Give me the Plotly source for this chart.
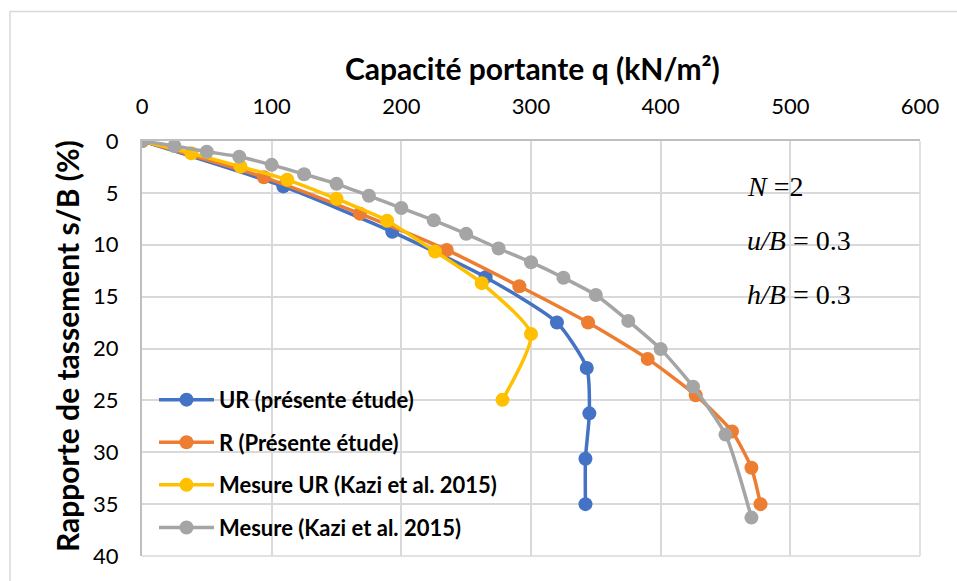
import plotly.graph_objects as go

# Bearing capacity q (kN/m²) versus settlement ratio s/B (%)
ur_q = [0, 109, 193, 265, 320, 343, 345, 342, 342]
ur_s = [0, 4.375, 8.75, 13.125, 17.5, 21.875, 26.25, 30.625, 35.0]

r_q = [0, 94, 168, 235, 291, 344, 390, 427, 455, 470, 477]
r_s = [0, 3.5, 7.0, 10.5, 14.0, 17.5, 21.0, 24.5, 28.0, 31.5, 35.0]

mes_ur_q = [0, 38, 76, 112, 150, 189, 226, 262, 300, 278]
mes_ur_s = [0, 1.18, 2.47, 3.74, 5.57, 7.68, 10.65, 13.7, 18.6, 24.95]

mes_q = [0, 25, 50, 75, 100, 125, 150, 175, 200, 225, 250, 275, 300, 325,
         350, 375, 400, 425, 450, 470]
mes_s = [0, 0.48, 1.03, 1.51, 2.30, 3.20, 4.13, 5.28, 6.46, 7.65, 8.95,
         10.36, 11.68, 13.18, 14.85, 17.34, 20.06, 23.68, 28.3, 36.3]

series = [
    ("UR (présente étude)", ur_q, ur_s, "#4472C4"),
    ("R (Présente étude)", r_q, r_s, "#ED7D31"),
    ("Mesure UR (Kazi et al. 2015)", mes_ur_q, mes_ur_s, "#FFC000"),
    ("Mesure (Kazi et al. 2015)", mes_q, mes_s, "#A5A5A5"),
]

x_ticks = [0, 100, 200, 300, 400, 500, 600]
y_ticks = [0, 5, 10, 15, 20, 25, 30, 35, 40]

params = ["<i>N</i> =2", "<i>u/B</i> = 0.3", "<i>h/B</i> = 0.3"]
param_y = [4.4, 9.6, 14.8]

fig = go.Figure()
for i, (name, q, s, color) in enumerate(series):
    fig.add_trace(go.Scatter(
        x=q, y=s, name=f"<b>{name}</b>", mode="lines+markers",
        line=dict(color=color, width=3.5, shape="spline", smoothing=0.6),
        marker=dict(color=color, size=14),
        legendgroup=f"g{i}",
    ))

W, H = 957, 581
L, R, T, B = 142, 37, 141, 23
pw, ph = W - L - R, H - T - B

def px_x(p):
    return (p - L) / pw

def px_y(p):
    return 1 - (p - T) / ph

grid = "#d9d9d9"
fig.update_layout(
    width=W, height=H,
    margin=dict(l=L, r=R, t=T, b=B, pad=0),
    paper_bgcolor="white", plot_bgcolor="white",
    font=dict(family="Lato", color="#000000"),
    showlegend=True,
    legend=dict(
        x=px_x(154), y=px_y(380), xanchor="left", yanchor="top",
        bgcolor="rgba(0,0,0,0)", font=dict(family="Lato", size=22, color="#000"),
        tracegroupgap=11, itemwidth=55,
    ),
    xaxis=dict(
        side="top", range=[0, 600], tickvals=x_ticks,
        showgrid=True, gridcolor=grid, gridwidth=1.5,
        showline=True, linecolor="#bfbfbf", linewidth=2, mirror=False,
        zeroline=False, ticks="", ticklabelstandoff=16,
        tickfont=dict(family="Lato", size=22, color="#000"),
    ),
    yaxis=dict(
        autorange=False, range=[40, 0], tickvals=y_ticks,
        showgrid=True, gridcolor=grid, gridwidth=1.5,
        showline=True, linecolor="#bfbfbf", linewidth=2,
        zeroline=False, ticks="", ticklabelstandoff=17,
        tickfont=dict(family="Lato", size=22, color="#000"),
    ),
    shapes=[
        # right and bottom plot-area borders
        dict(type="line", xref="paper", yref="paper", x0=1, x1=1, y0=0, y1=1,
             line=dict(color=grid, width=1.5)),
        dict(type="line", xref="paper", yref="paper", x0=0, x1=1, y0=0, y1=0,
             line=dict(color=grid, width=1.5)),
        # white panel behind the parameter text
        dict(type="rect", xref="paper", yref="paper",
             x0=px_x(727), x1=px_x(899), y0=px_y(327), y1=px_y(153),
             fillcolor="white", line=dict(width=0), layer="between"),
        # outer chart frame
        dict(type="rect", xref="paper", yref="paper",
             x0=px_x(10), x1=px_x(990), y0=px_y(620), y1=px_y(11),
             fillcolor="rgba(0,0,0,0)", line=dict(color=grid, width=1.5),
             layer="below"),
    ],
)

annotations = [
    dict(text="<b>Capacité portante q (kN/m²)</b>", xref="paper", yref="paper",
         x=px_x(532), y=px_y(68), xanchor="center", yanchor="middle",
         showarrow=False, font=dict(family="Lato", size=30, color="#000")),
    dict(text="<b>Rapporte de tassement s/B (%)</b>", xref="paper", yref="paper",
         x=px_x(67), y=px_y(347), xanchor="center", yanchor="middle",
         textangle=-90, showarrow=False,
         font=dict(family="Lato", size=30, color="#000")),
]
for txt, yv in zip(params, param_y):
    annotations.append(dict(
        text=txt, x=465, y=yv, xref="x", yref="y",
        xanchor="left", yanchor="middle", showarrow=False,
        font=dict(family="Liberation Serif", size=28, color="#000"),
    ))
fig.update_layout(annotations=annotations)

fig.write_html("out.html")
